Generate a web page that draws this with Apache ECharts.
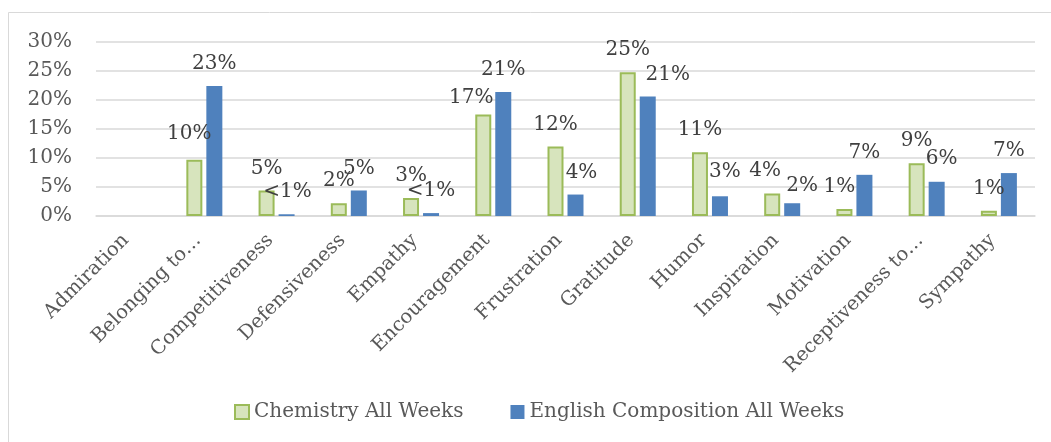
<!DOCTYPE html>
<html>
<head>
<meta charset="utf-8">
<script src="https://cdn.jsdelivr.net/npm/echarts@6/dist/echarts.min.js"></script>
<style>
html,body{margin:0;padding:0;background:#fff;}
#chart{width:1051px;height:442px;}
</style>
</head>
<body>
<div id="chart"></div>
<script>
const categories = ['Admiration','Belonging to…','Competitiveness','Defensiveness','Empathy','Encouragement','Frustration','Gratitude','Humor','Inspiration','Motivation','Receptiveness to…','Sympathy'];
const chemistryValues = [0, 9.7, 4.4, 2.2, 3.1, 17.5, 12.0, 24.8, 11.0, 3.9, 1.2, 9.1, 0.9];
const englishValues = [0, 22.4, 0.3, 4.4, 0.5, 21.4, 3.7, 20.6, 3.4, 2.2, 7.1, 5.9, 7.4];
const chemistryLabels = ['', '10%', '5%', '2%', '3%', '17%', '12%', '25%', '11%', '4%', '1%', '9%', '1%'];
const englishLabels = ['', '23%', '<1%', '5%', '<1%', '21%', '4%', '21%', '3%', '2%', '7%', '6%', '7%'];
const yTicks = [0, 5, 10, 15, 20, 25, 30];
// small nudges of data labels (Excel's overlap avoidance), [dx, dy] in px
const chemistryLabelNudge = [[0,0],[-5,-4],[0,0],[0,0],[0,0],[-12,5],[0,0],[0,0],[0,0],[-7,-1],[-5,0],[0,0],[0,0]];
const englishLabelNudge = [[0,0],[0,0],[1,0],[0,0],[0,0],[0,0],[6,0],[20,0],[5,-2],[10,5],[0,0],[5,-1],[0,0]];

const FONT = 'DejaVu Serif';

function buildData(values, nudges) {
  return values.map((v, i) => {
    const item = {value: v, label: {offset: nudges[i]}};
    if (v === 0) item.itemStyle = {borderWidth: 0, opacity: 0};
    return item;
  });
}

const chart = echarts.init(document.getElementById('chart'), null, {renderer: 'canvas'});
chart.setOption({
  animation: false,
  backgroundColor: '#ffffff',
  textStyle: {fontFamily: FONT},
  graphic: [{
    type: 'rect', shape: {x: 8.5, y: 12.5, width: 1100, height: 600},
    style: {fill: 'none', stroke: '#d9d9d9', lineWidth: 1}, silent: true, z: -1
  }],
  grid: {left: 96, right: 16, top: 42, bottom: 226, containLabel: false},
  legend: {
    bottom: 20, left: 234, padding: 0,
    itemWidth: 14, itemHeight: 14, itemGap: 47,
    textStyle: {fontFamily: FONT, fontSize: 20, color: '#595959'},
    data: [
      {name: 'Chemistry All Weeks', icon: 'rect'},
      {name: 'English Composition All Weeks', icon: 'rect'}
    ]
  },
  xAxis: {
    type: 'category', data: categories,
    axisLine: {show: true, lineStyle: {color: '#d9d9d9', width: 1.5}},
    axisTick: {show: false},
    axisLabel: {rotate: 45, interval: 0, margin: 15, padding: [0, 9, 0, 0],
      fontFamily: FONT, fontSize: 19.5, color: '#595959'}
  },
  yAxis: {
    type: 'value', min: yTicks[0], max: yTicks[yTicks.length - 1], interval: 5,
    axisLine: {show: false}, axisTick: {show: false},
    axisLabel: {formatter: '{value}%', margin: 24, fontFamily: FONT, fontSize: 20, color: '#595959'},
    splitLine: {lineStyle: {color: '#d9d9d9', width: 1.5}}
  },
  series: [
    {
      name: 'Chemistry All Weeks', type: 'bar', data: buildData(chemistryValues, chemistryLabelNudge),
      barWidth: 16, barGap: '25%',
      itemStyle: {color: '#d7e4bd', borderColor: '#9bbb59', borderWidth: 2},
      label: {show: true, position: 'top', distance: 12, fontFamily: FONT, fontSize: 20, color: '#404040',
        formatter: p => chemistryLabels[p.dataIndex]}
    },
    {
      name: 'English Composition All Weeks', type: 'bar', data: buildData(englishValues, englishLabelNudge),
      barWidth: 16,
      itemStyle: {color: '#4f81bd'},
      label: {show: true, position: 'top', distance: 12, fontFamily: FONT, fontSize: 20, color: '#404040',
        formatter: p => englishLabels[p.dataIndex]}
    }
  ]
});
</script>
</body>
</html>
